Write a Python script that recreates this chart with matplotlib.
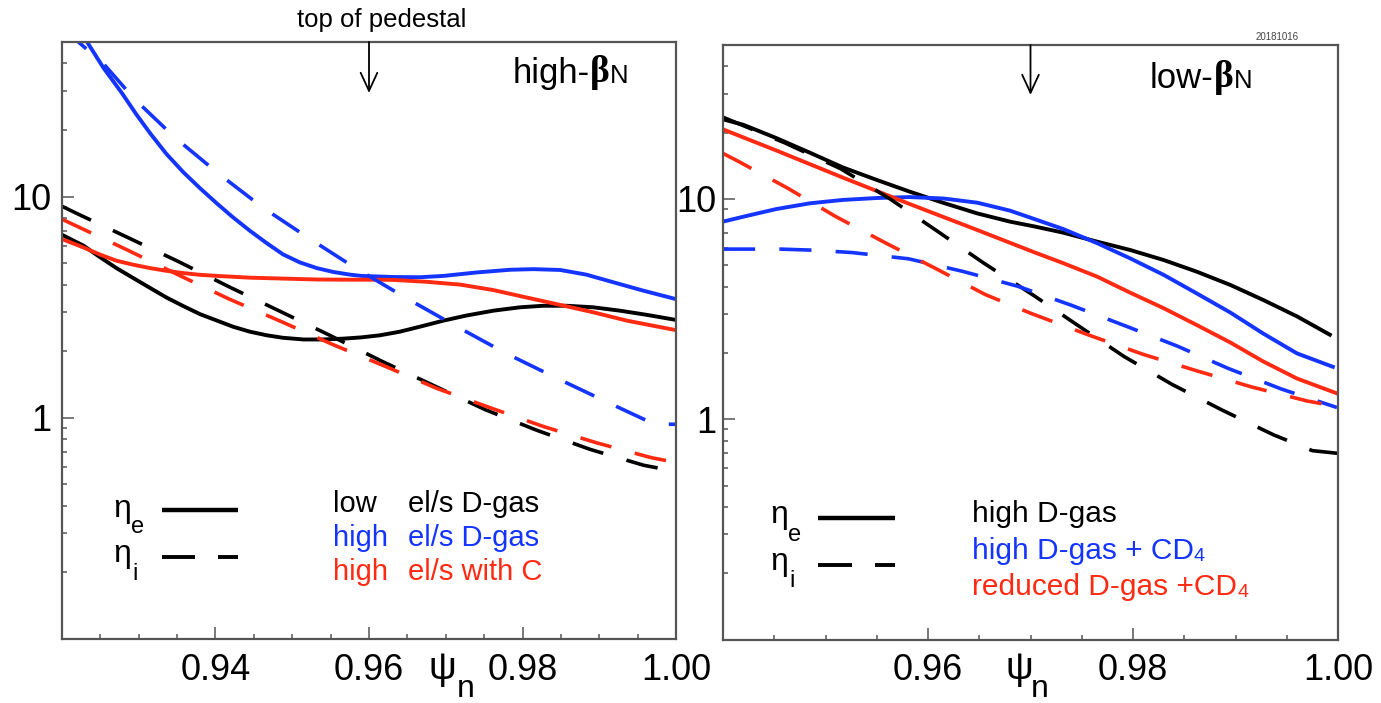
import matplotlib
matplotlib.use('Agg')
import matplotlib.pyplot as plt
from matplotlib.lines import Line2D
from matplotlib.ticker import FixedLocator, FixedFormatter, MultipleLocator, LogLocator, NullFormatter

plt.rcParams['font.family'] = ['Liberation Sans', 'DejaVu Sans']

# ---------------- data ----------------
# left panel: high-beta_N
L_black_e_x = [0.920, 0.9228, 0.925, 0.9271, 0.9293, 0.9315, 0.9336, 0.9358, 0.938, 0.9402, 0.9423,
               0.9445, 0.9467, 0.9488, 0.9515, 0.954, 0.9567, 0.959, 0.9614, 0.964, 0.9666, 0.9697,
               0.9727, 0.9762, 0.9797, 0.9827, 0.9858, 0.9892, 0.9927, 0.9962, 1.000]
L_black_e_y = [6.72, 6.0, 5.31, 4.75, 4.28, 3.86, 3.50, 3.20, 2.94, 2.75, 2.58,
               2.45, 2.36, 2.30, 2.26, 2.26, 2.28, 2.31, 2.36, 2.45, 2.58, 2.75,
               2.90, 3.05, 3.16, 3.21, 3.21, 3.16, 3.05, 2.92, 2.77]

L_blue_e_x = [0.920, 0.9234, 0.9254, 0.9278, 0.9297, 0.9315, 0.9336, 0.9358, 0.938, 0.9402, 0.9423,
              0.9445, 0.9467, 0.9488, 0.951, 0.9532, 0.9554, 0.9575, 0.959, 0.9632, 0.9666, 0.9697,
              0.974, 0.9784, 0.9814, 0.9849, 0.9883, 0.9914, 0.9957, 1.000]
L_blue_e_y = [78, 49.2, 38.2, 29.4, 23.5, 19.3, 15.6, 12.9, 10.9, 9.3, 8.05,
              7.0, 6.15, 5.48, 5.04, 4.75, 4.56, 4.44, 4.38, 4.33, 4.32, 4.38,
              4.54, 4.67, 4.70, 4.66, 4.44, 4.14, 3.76, 3.44]

L_red_e_x = [0.920, 0.9228, 0.925, 0.9271, 0.9293, 0.9315, 0.9336, 0.9358, 0.938, 0.9402, 0.9445,
             0.9488, 0.9532, 0.9575, 0.9614, 0.9632, 0.9675, 0.9719, 0.9762, 0.9805, 0.9849,
             0.9892, 0.9936, 1.000]
L_red_e_y = [6.43, 5.89, 5.46, 5.13, 4.92, 4.75, 4.62, 4.51, 4.43, 4.38, 4.30,
             4.26, 4.22, 4.21, 4.21, 4.20, 4.12, 4.0, 3.78, 3.50, 3.24,
             3.00, 2.75, 2.49]

L_black_i_x = [0.920, 0.9219, 0.9285, 0.9352, 0.9419, 0.9485, 0.955, 0.9617, 0.9686, 0.9751, 0.9818, 0.9888, 0.9958, 0.998]
L_black_i_y = [9.04, 8.4, 6.55, 5.08, 3.89, 3.02, 2.35, 1.80, 1.39, 1.09, 0.88, 0.72, 0.61, 0.59]

L_blue_i_x = [0.920, 0.9254, 0.9294, 0.9347, 0.9404, 0.9462, 0.9523, 0.9582, 0.9649, 0.9714, 0.9778, 0.9843, 0.9912, 0.9965, 0.9985, 1.000]
L_blue_i_y = [58, 39.9, 27.7, 18.5, 12.7, 8.9, 6.44, 4.76, 3.47, 2.59, 1.96, 1.52, 1.17, 0.96, 0.935, 0.935]

L_red_i_x = [0.920, 0.9219, 0.9285, 0.9352, 0.9418, 0.9485, 0.9552, 0.9621, 0.9688, 0.9758, 0.9827, 0.9897, 0.9968, 0.9988]
L_red_i_y = [7.9, 7.36, 5.74, 4.42, 3.44, 2.73, 2.15, 1.71, 1.36, 1.11, 0.914, 0.77, 0.66, 0.64]

# right panel: low-beta_N
R_black_e_x = [0.940, 0.942, 0.9452, 0.9485, 0.9517, 0.955, 0.9582, 0.9615, 0.9648, 0.968, 0.9704,
               0.9732, 0.9765, 0.9797, 0.983, 0.9862, 0.9895, 0.9927, 0.996, 0.9992]
R_black_e_y = [23.0, 21.7, 18.9, 16.2, 13.9, 12.2, 10.8, 9.6, 8.6, 7.89, 7.50,
               7.03, 6.40, 5.87, 5.28, 4.68, 4.07, 3.48, 2.93, 2.42]

R_blue_e_x = [0.940, 0.942, 0.9452, 0.9485, 0.9517, 0.955, 0.9582, 0.9615, 0.9648, 0.968, 0.9704,
              0.9732, 0.9765, 0.9797, 0.983, 0.9862, 0.9895, 0.9927, 0.996, 0.9995]
R_blue_e_y = [7.89, 8.31, 9.0, 9.56, 9.9, 10.1, 10.2, 10.05, 9.62, 8.85, 8.1,
              7.3, 6.30, 5.38, 4.52, 3.73, 3.05, 2.45, 1.99, 1.73]

R_red_e_x = [0.940, 0.9452, 0.9517, 0.9582, 0.9648, 0.9704, 0.9732, 0.9765, 0.9797, 0.983, 0.9862,
             0.9895, 0.9927, 0.996, 0.9999]
R_red_e_y = [20.7, 16.6, 12.5, 9.49, 7.23, 5.72, 5.11, 4.44, 3.76, 3.19, 2.68,
             2.23, 1.83, 1.53, 1.31]

R_black_i_x = [0.940, 0.946, 0.9515, 0.9563, 0.9608, 0.9654, 0.9703, 0.9745, 0.9791, 0.9838, 0.9887, 0.9937, 0.9975, 1.000]
R_black_i_y = [23.5, 18.0, 13.7, 10.0, 7.2, 5.13, 3.65, 2.69, 1.93, 1.44, 1.10, 0.85, 0.72, 0.70]

R_blue_i_x = [0.940, 0.9456, 0.949, 0.9526, 0.9581, 0.9634, 0.9688, 0.974, 0.9791, 0.9843, 0.9893, 0.9945, 0.9999]
R_blue_i_y = [5.92, 5.92, 5.85, 5.71, 5.35, 4.69, 4.01, 3.29, 2.67, 2.15, 1.70, 1.37, 1.13]

R_red_i_x = [0.940, 0.9414, 0.9463, 0.951, 0.9559, 0.9608, 0.9656, 0.970, 0.9758, 0.981, 0.9862, 0.9916, 0.997, 1.000]
R_red_i_y = [16.1, 14.9, 11.2, 8.32, 6.3, 4.82, 3.68, 3.03, 2.40, 1.97, 1.66, 1.40, 1.21, 1.14]

L_xticks = [0.94, 0.96, 0.98, 1.00]
L_xticklabels = ['0.94', '0.96', '0.98', '1.00']
R_xticks = [0.96, 0.98, 1.00]
R_xticklabels = ['0.96', '0.98', '1.00']
yticks = [0.1, 1, 10]
yticklabels = ['', '1', '10']

L_labels = [('low', 'el/s D-gas'), ('high', 'el/s D-gas'), ('high', 'el/s with C')]
R_labels = ['high D-gas', 'high D-gas + CD', 'reduced D-gas +CD']

# ---------------- figure ----------------
W, H = 1381, 703
fig = plt.figure(figsize=(W / 100, H / 100), dpi=100)


def fx(px):
    return px / W


def fy(py):
    return 1 - py / H


BLACK = 'black'
BLUE = '#1434ff'
RED = '#ff2a12'
SPINE = '#555555'
LW = 2.8
LWD = 2.6
DASH = (8.9, 6.7)

axL = fig.add_axes([fx(62), fy(639), (676 - 62) / W, (639 - 42) / H])
axR = fig.add_axes([fx(723), fy(639.5), (1338 - 723) / W, (639.5 - 45) / H])


def style_axes(ax, xlim, xticks, xlabels, ypad):
    ax.set_yscale('log')
    ax.set_xlim(*xlim)
    ax.set_ylim(0.1, 50)
    ax.xaxis.set_major_locator(FixedLocator(xticks))
    ax.xaxis.set_major_formatter(FixedFormatter(xlabels))
    ax.xaxis.set_minor_locator(MultipleLocator(0.005))
    ax.yaxis.set_major_locator(FixedLocator(yticks))
    ax.yaxis.set_major_formatter(FixedFormatter(yticklabels))
    ax.yaxis.set_minor_locator(LogLocator(base=10, subs=[2, 3, 4, 5, 6, 7, 8, 9]))
    ax.yaxis.set_minor_formatter(NullFormatter())
    ax.tick_params(which='both', direction='in', color=SPINE, width=1.1,
                   top=False, right=False, labelsize=26)
    ax.tick_params(which='major', length=8.6)
    ax.tick_params(which='minor', length=3.6)
    ax.tick_params(axis='x', pad=10)
    ax.tick_params(axis='y', pad=ypad)
    for s in ax.spines.values():
        s.set_color(SPINE)
        s.set_linewidth(1.6)


style_axes(axL, (0.92, 1.00), L_xticks, L_xticklabels, 8)
style_axes(axR, (0.94, 1.00), R_xticks, R_xticklabels, 5)

# left panel curves
axL.plot(L_black_e_x, L_black_e_y, color=BLACK, lw=LW)
axL.plot(L_blue_e_x, L_blue_e_y, color=BLUE, lw=LW)
axL.plot(L_red_e_x, L_red_e_y, color=RED, lw=LW)
axL.plot(L_black_i_x, L_black_i_y, color=BLACK, lw=LWD, dashes=DASH)
axL.plot(L_blue_i_x, L_blue_i_y, color=BLUE, lw=LWD, dashes=DASH)
axL.plot(L_red_i_x, L_red_i_y, color=RED, lw=LWD, dashes=DASH)

# right panel curves
axR.plot(R_black_e_x, R_black_e_y, color=BLACK, lw=LW)
axR.plot(R_blue_e_x, R_blue_e_y, color=BLUE, lw=LW)
axR.plot(R_red_e_x, R_red_e_y, color=RED, lw=LW)
axR.plot(R_black_i_x, R_black_i_y, color=BLACK, lw=LWD, dashes=DASH)
axR.plot(R_blue_i_x, R_blue_i_y, color=BLUE, lw=LWD, dashes=DASH)
axR.plot(R_red_i_x, R_red_i_y, color=RED, lw=LWD, dashes=DASH)

# pedestal arrows
arrow = dict(arrowstyle='->,head_length=0.65,head_width=0.3', lw=1.3, color='black',
             mutation_scale=20, shrinkA=0, shrinkB=0)
axL.annotate('', xy=(0.96, 0.9146), xycoords=('data', 'axes fraction'),
             xytext=(0.96, 1.0), textcoords=('data', 'axes fraction'), arrowprops=arrow)
axR.annotate('', xy=(0.97, 0.916), xycoords=('data', 'axes fraction'),
             xytext=(0.97, 1.0), textcoords=('data', 'axes fraction'), arrowprops=arrow)

fig.text(fx(382), fy(27), 'top of pedestal', fontsize=18.5, ha='center', va='baseline')
fig.text(fx(1277), fy(37), '20181016', fontsize=7, ha='center', va='center', color='#444444')


def beta_title(ax, px, py, word):
    t = fig.text(fx(px), fy(py), word, fontsize=25, va='baseline', ha='left')
    b = ax.annotate('\u03b2', xy=(1, 0), xycoords=t, va='bottom', ha='left', fontsize=27,
                    fontweight='bold', family=['Liberation Serif', 'DejaVu Serif'])
    ax.annotate('N', xy=(1, 0), xycoords=b, xytext=(0, 1.5), textcoords='offset points',
                va='bottom', ha='left', fontsize=18.5)


beta_title(axL, 513, 83, 'high-')
beta_title(axR, 1150, 88, 'low-')

# psi_n axis labels
for px_psi, px_n in [(428, 457), (1006, 1031)]:
    fig.text(fx(px_psi), fy(679), '\u03c8', fontsize=28, ha='left', va='baseline')
    fig.text(fx(px_n), fy(697), 'n', fontsize=23, ha='left', va='baseline')


# eta legend keys
def eta_key(px_eta, px_sub, base_e, sub_e, base_i, sub_i, x0, x1, y_e, y_i, xd):
    fig.text(fx(px_eta), fy(base_e), '\u03b7', fontsize=23, ha='left', va='baseline')
    fig.text(fx(px_sub), fy(sub_e), 'e', fontsize=17, ha='left', va='baseline')
    fig.text(fx(px_eta), fy(base_i), '\u03b7', fontsize=23, ha='left', va='baseline')
    fig.text(fx(px_sub + 1), fy(sub_i), 'i', fontsize=17, ha='left', va='baseline')
    fig.add_artist(Line2D([fx(x0), fx(x1)], [fy(y_e), fy(y_e)], color='black', lw=3.2,
                          solid_capstyle='butt'))
    fig.add_artist(Line2D([fx(x0), fx(xd[0])], [fy(y_i), fy(y_i)], color='black', lw=2.8,
                          solid_capstyle='butt'))
    fig.add_artist(Line2D([fx(xd[1]), fx(x1)], [fy(y_i), fy(y_i)], color='black', lw=2.8,
                          solid_capstyle='butt'))


eta_key(113, 131, 517, 533, 562, 580, 162, 238, 510, 557, (195, 218))
eta_key(770, 788, 523, 541, 570, 587, 818, 895, 518, 565, (852, 875))

# left legend text
colors = [BLACK, BLUE, RED]
for (a, b), c, base in zip(L_labels, colors, [512, 546, 580]):
    fig.text(fx(333), fy(base), a, fontsize=21, color=c, ha='left', va='baseline')
    fig.text(fx(408), fy(base), b, fontsize=21, color=c, ha='left', va='baseline')

# right legend text
for i, (lab, c, base) in enumerate(zip(R_labels, colors, [522, 559, 595])):
    t = fig.text(fx(972), fy(base), lab, fontsize=21.5, color=c, ha='left', va='baseline')
    if i > 0:
        axR.annotate('4', xy=(1, 0), xycoords=t, va='bottom', ha='left', fontsize=14, color=c)

fig.savefig('out.png', dpi=100)
